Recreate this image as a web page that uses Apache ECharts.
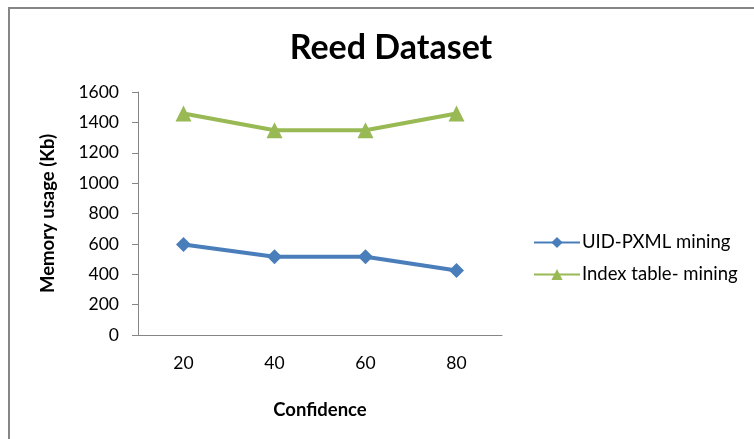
<!DOCTYPE html>
<html>
<head>
<meta charset="utf-8">
<script src="https://cdn.jsdelivr.net/npm/echarts@6/dist/echarts.min.js"></script>
<style>
  html, body { margin: 0; padding: 0; background: #fff; }
  #chart { width: 754px; height: 439px; }
</style>
</head>
<body>
<div id="chart"></div>
<script>
// Memory usage per confidence level
const confidence = ['20', '40', '60', '80'];
const uidPxml = [596, 515, 515, 425];
const indexTable = [1458, 1348, 1348, 1458];
const yTicks = { min: 0, max: 1600, interval: 200 };

const axisGray = '#868686';
const font = 'Lato';

const chart = echarts.init(document.getElementById('chart'));
chart.setOption({
  animation: false,
  backgroundColor: '#fff',
  title: {
    text: 'Reed Dataset',
    left: 386, top: 26, textAlign: 'center',
    textStyle: { fontFamily: font, fontWeight: 'bold', fontSize: 34, color: '#000' }
  },
  graphic: [{
    type: 'rect', shape: { x: 9, y: 8, width: 800, height: 500 },
    style: { fill: 'none', stroke: axisGray, lineWidth: 2 }, silent: true
  }],
  legend: {
    orient: 'vertical', left: 528, top: 228, itemGap: 13,
    itemWidth: 46, itemHeight: 14,
    textStyle: { fontFamily: font, fontSize: 18.5, color: '#000', padding: [0, 0, 0, -3] },
    data: ['UID-PXML mining', 'Index table- mining']
  },
  grid: { left: 138, right: 252, top: 92, bottom: 104 },
  xAxis: {
    type: 'category', data: confidence, boundaryGap: true,
    name: 'Confidence', nameLocation: 'middle', nameGap: 66,
    nameTextStyle: { fontFamily: font, fontWeight: 'bold', fontSize: 18.5, color: '#000' },
    axisLine: { lineStyle: { color: axisGray, width: 1 } },
    axisTick: { length: 6, lineStyle: { color: axisGray } },
    axisLabel: { fontFamily: font, fontSize: 17.5, color: '#000', margin: 19 },
    splitLine: { show: false }
  },
  yAxis: {
    type: 'value', min: yTicks.min, max: yTicks.max, interval: yTicks.interval,
    name: 'Memory usage (Kb)', nameLocation: 'middle', nameGap: 80, nameRotate: 90,
    nameTextStyle: { fontFamily: font, fontWeight: 'bold', fontSize: 18.5, color: '#000' },
    axisLine: { show: true, lineStyle: { color: axisGray, width: 1 } },
    axisTick: { show: true, length: 6, lineStyle: { color: axisGray } },
    axisLabel: { fontFamily: font, fontSize: 17.5, color: '#000', margin: 19,
                 formatter: v => String(v) },
    splitLine: { show: false }
  },
  series: [
    {
      name: 'UID-PXML mining', type: 'line', data: uidPxml,
      symbol: 'diamond', symbolSize: 15,
      lineStyle: { color: '#4a7ebb', width: 4 },
      itemStyle: { color: '#4a7ebb' }
    },
    {
      name: 'Index table- mining', type: 'line', data: indexTable,
      symbol: 'triangle', symbolSize: 16,
      lineStyle: { color: '#98b954', width: 4 },
      itemStyle: { color: '#98b954' }
    }
  ]
});
</script>
</body>
</html>
